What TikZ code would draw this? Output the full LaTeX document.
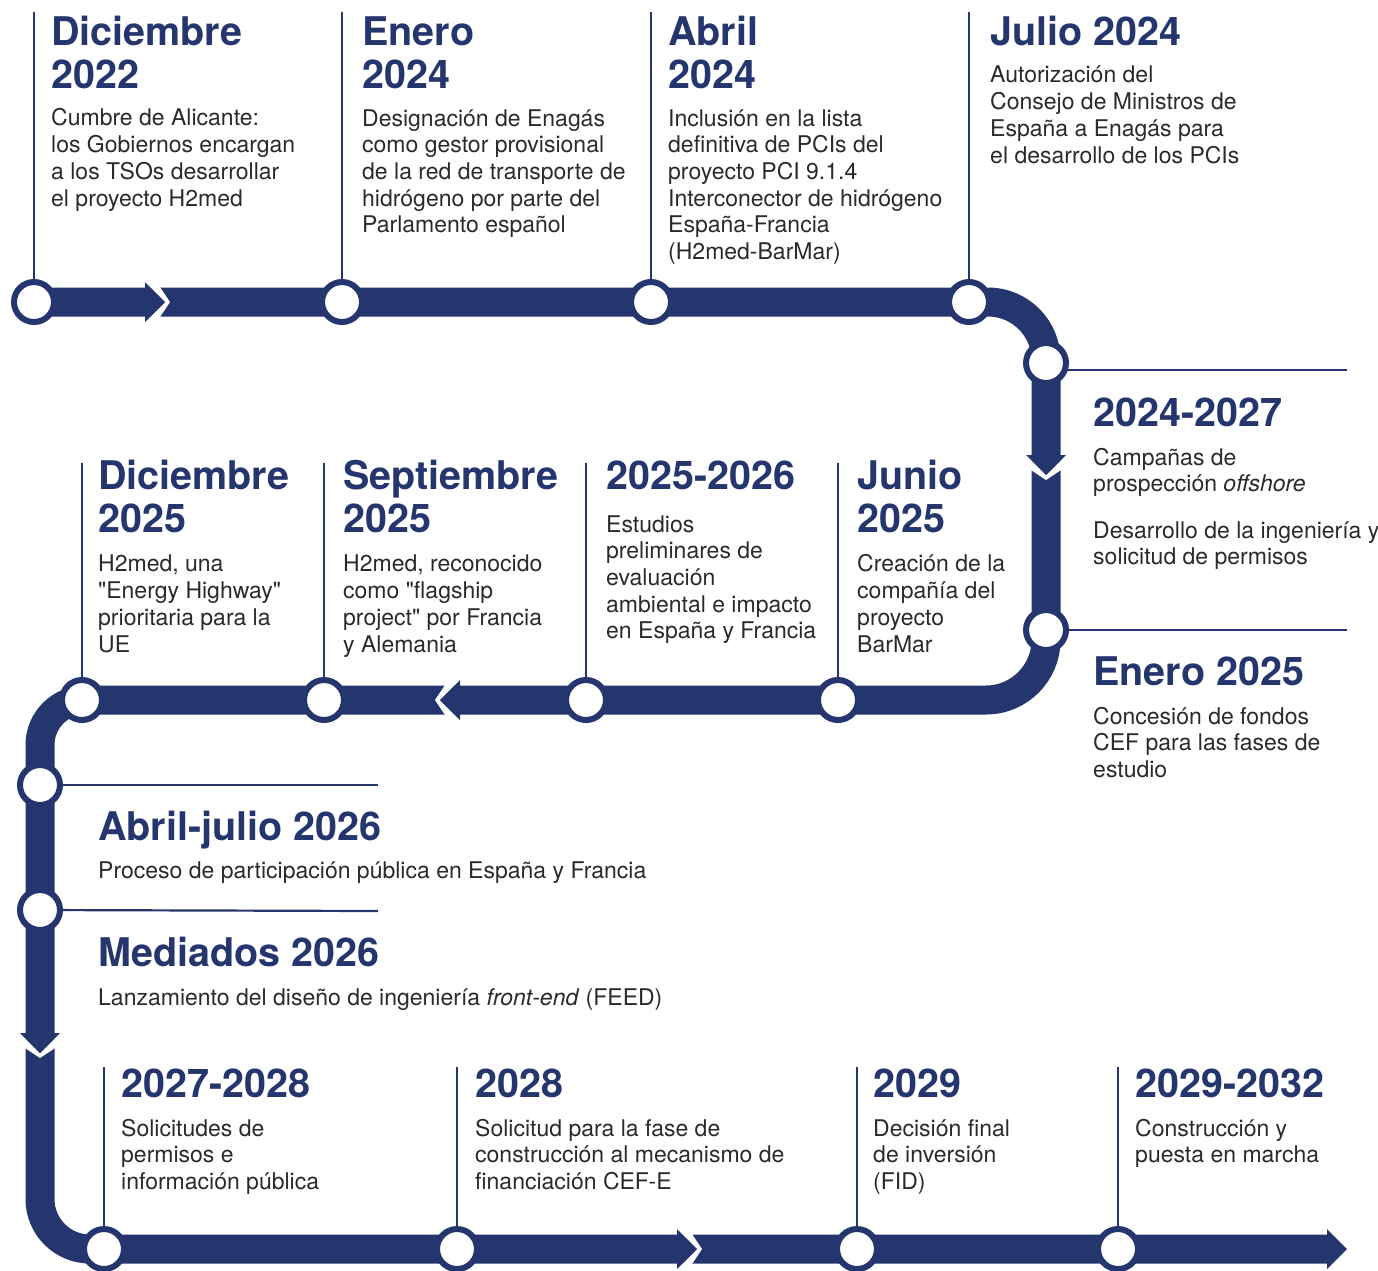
\documentclass[tikz,border=0pt]{standalone}
\usepackage{fontspec}
\setmainfont{TeX Gyre Heros}[Ligatures=TeXOff]
\definecolor{navy}{RGB}{37,53,110}
\definecolor{ink}{RGB}{42,42,42}
\tikzset{
  track/.style={draw=navy, line width=29pt},
  stop/.style={circle, draw=navy, fill=white, line width=6pt, minimum size=40pt, inner sep=0pt, outer sep=0pt},
  tick/.style={draw=navy, line width=2.2pt},
  % multi-line nodes: the base anchor sits on the last line's baseline
  head/.style={anchor=base west, inner sep=0pt, align=left, text=navy, font=\fontsize{39.5}{43}\selectfont\bfseries},
  body/.style={anchor=base west, inner sep=0pt, align=left, text=ink, font=\fontsize{23}{26.7}\selectfont},
  % arrow head on the track with a white chevron gap in front of it
  gaparrow/.pic={
    \fill[white] (-15,-15) -- (-5,-15) -- (5,0) -- (-5,15) -- (-15,15) -- (0,0) -- cycle;
    \fill[navy] (-20,-20) -- (0,0) -- (-20,20) -- cycle;
  },
  endarrow/.pic={
    \fill[navy] (-20,-20) -- (0,0) -- (-20,20) -- cycle;
  }
}
\begin{document}
\begin{tikzpicture}[x=1pt,y=-1pt]
\useasboundingbox (0,0) rectangle (1378,1270);

% the serpentine track
\draw[track] (34,302) -- (988,302)
  .. controls (1020,302) and (1046,328) .. (1046,360) -- (1046,640)
  .. controls (1046,673.1) and (1019.1,700) .. (986,700) -- (85,700)
  .. controls (60.1,700) and (40,720.1) .. (40,745) -- (40,1199)
  .. controls (40,1226.6) and (62.4,1249) .. (90,1249) -- (1328,1249);

% direction arrows
\pic at (165,302) {gaparrow};
\pic[rotate=-90] at (1046,475) {gaparrow};
\pic[rotate=180] at (440,700) {gaparrow};
\pic[rotate=-90] at (40,1053) {gaparrow};
\pic at (697,1249) {gaparrow};
\pic at (1347,1249) {endarrow};

% stops
\node[stop] (c1) at (34,302) {};
\node[stop] (c2) at (342,302) {};
\node[stop] (c3) at (651,302) {};
\node[stop] (c4) at (969,302) {};
\node[stop] (r1) at (1046,363) {};
\node[stop] (r2) at (1046,630) {};
\node[stop] (m1) at (82,700) {};
\node[stop] (m2) at (324,700) {};
\node[stop] (m3) at (586,700) {};
\node[stop] (m4) at (838,700) {};
\node[stop] (l1) at (40,785) {};
\node[stop] (l2) at (40,910) {};
\node[stop] (b1) at (104,1249) {};
\node[stop] (b2) at (457,1249) {};
\node[stop] (b3) at (857,1249) {};
\node[stop] (b4) at (1118,1249) {};

% leader lines
\coordinate (tc1) at (34,12);
\coordinate (tc2) at (342,12);
\coordinate (tc3) at (651,12);
\coordinate (tc4) at (969,12);
\coordinate (tr1) at (1347,370);
\coordinate (tr2) at (1347,630);
\coordinate (tm1) at (82,463);
\coordinate (tm2) at (324,463);
\coordinate (tm3) at (586,463);
\coordinate (tm4) at (838,463);
\coordinate (tl1) at (378,785);
\coordinate (tl2) at (378,911);
\coordinate (tb1) at (104,1067);
\coordinate (tb2) at (457,1067);
\coordinate (tb3) at (857,1067);
\coordinate (tb4) at (1118,1067);
\foreach \n in {c1,c2,c3,c4,m1,m2,m3,m4,b1,b2,b3,b4,r2,l1,l2}
  \draw[tick] (t\n) -- (\n);
\draw[tick] (r1.east |- tr1) -- (tr1);

% top row
\node[head] (h1) at (51,88) {Diciembre\\2022};
\node[body] (d1) at (51,206) {Cumbre de Alicante:\\los Gobiernos encargan\\a los TSOs desarrollar\\el proyecto H2med};
\node[head] (h2) at (362,88) {Enero\\2024};
\node[body] (d2) at (362,232.8) {Designación de Enagás\\como gestor provisional\\de la red de transporte de\\hidrógeno por parte del\\Parlamento español};
\node[head] (h3) at (668,88) {Abril\\2024};
\node[body] (d3) at (668,259.5) {Inclusión en la lista\\definitiva de PCIs del\\proyecto PCI 9.1.4\\Interconector de hidrógeno\\España-Francia\\(H2med-BarMar)};
\node[head] (h4) at (990,45) {Julio 2024};
\node[body] (d4) at (990,163) {Autorización del\\Consejo de Ministros de\\España a Enagás para\\el desarrollo de los PCIs};

% right side
\node[head] (h5) at (1093,426) {2024-2027};
\node[body] (d5) at (1093,491.7) {Campañas de\\prospección \textit{offshore}};
\node[body] (d5b) at (1093,564.7) {Desarrollo de la ingeniería y\\solicitud de permisos};
\node[head] (h6) at (1093,685) {Enero 2025};
\node[body] (d6) at (1093,777.4) {Concesión de fondos\\CEF para las fases de\\estudio};

% middle row
\node[head] (h7) at (98,532) {Diciembre\\2025};
\node[body] (d7) at (98,652) {H2med, una\\"Energy Highway"\\prioritaria para la\\UE};
\node[head] (h8) at (343,532) {Septiembre\\2025};
\node[body] (d8) at (343,652) {H2med, reconocido\\como "flagship\\project" por Francia\\y Alemania};
\node[head] (h9) at (606,489) {2025-2026};
\node[body] (d9) at (606,638.8) {Estudios\\preliminares de\\evaluación\\ambiental e impacto\\en España y Francia};
\node[head] (h10) at (857,532) {Junio\\2025};
\node[body] (d10) at (857,652) {Creación de la\\compañía del\\proyecto\\BarMar};

% left side
\node[head] (h11) at (98,840) {Abril-julio 2026};
\node[body] (d11) at (98,878) {Proceso de participación pública en España y Francia};
\node[head] (h12) at (98,966) {Mediados 2026};
\node[body] (d12) at (98,1005) {Lanzamiento del diseño de ingeniería \textit{front-end} (FEED)};

% bottom row
\node[head] (h13) at (121,1097) {2027-2028};
\node[body] (d13) at (121,1189.4) {Solicitudes de\\permisos e\\información pública};
\node[head] (h14) at (475,1097) {2028};
\node[body] (d14) at (475,1189.4) {Solicitud para la fase de\\construcción al mecanismo de\\financiación CEF-E};
\node[head] (h15) at (873,1097) {2029};
\node[body] (d15) at (873,1189.4) {Decisión final\\de inversión\\(FID)};
\node[head] (h16) at (1135,1097) {2029-2032};
\node[body] (d16) at (1135,1162.7) {Construcción y\\puesta en marcha};
\end{tikzpicture}
\end{document}
